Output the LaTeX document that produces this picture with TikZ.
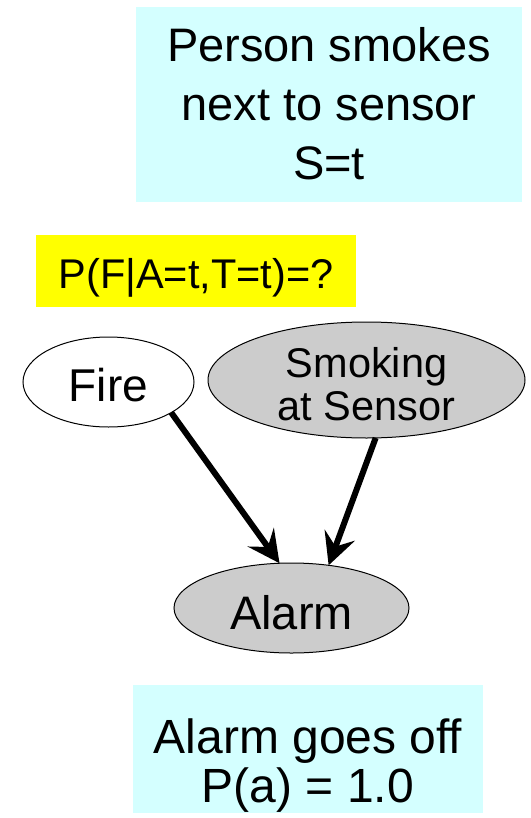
\documentclass[tikz,border=0pt]{standalone}
\usepackage{fontspec}
\setmainfont{Liberation Sans}
\usetikzlibrary{arrows.meta,shapes.geometric}
\definecolor{notecyan}{RGB}{212,255,255}
\definecolor{nodegray}{RGB}{204,204,204}
\definecolor{queryyellow}{RGB}{255,255,0}
% centred lines whose reference point is the first baseline
\newcommand\stackedlines[1]{\begin{tabular}[t]{@{}c@{}}#1\end{tabular}}

\begin{document}
\begin{tikzpicture}[x=1pt,y=-1pt,
  note/.style={rectangle, fill=notecyan, inner sep=0pt, outer sep=0pt},
  query/.style={rectangle, fill=queryyellow, inner sep=0pt, outer sep=0pt},
  var/.style={ellipse, draw=black, line width=1pt, inner sep=0pt, outer sep=0pt},
  cause/.style={line width=6pt, -{Stealth[length=32pt,width=32pt,inset=12pt]}}]
\useasboundingbox (0,0) rectangle (530,818);

% evidence note at the top
\node[note, minimum width=386pt, minimum height=195pt, text height=10pt, text depth=95pt,
      font=\fontsize{47}{59}\selectfont] (smokenote) at (329,104.5)
  {\stackedlines{Person smokes\\next to sensor\\S=t}};

% query
\node[query, minimum width=320pt, minimum height=72pt, text height=40pt, text depth=6pt,
      font=\fontsize{41.5}{48}\selectfont] (querybox) at (196,271) {P(F|A=t,T=t)=?};

% network variables
\node[var, fill=white, minimum width=171pt, minimum height=90pt, text height=45pt, text depth=5.6pt,
      font=\fontsize{46}{52}\selectfont] (fire) at (108.5,382) {Fire};
\node[var, fill=nodegray, minimum width=317pt, minimum height=116pt, text height=36pt, text depth=42pt,
      font=\fontsize{41.5}{43}\selectfont] (smoking) at (366.5,380) {\stackedlines{Smoking\\at Sensor}};
\node[var, fill=nodegray, minimum width=235pt, minimum height=90pt, text height=46pt, text depth=4pt,
      font=\fontsize{47}{54}\selectfont] (alarm) at (291.5,608) {Alarm};

% causal links
\draw[cause] (fire.-26.7) -- (alarm.105);
\draw[cause] (smoking.-81.7) -- (alarm.49.5);

% evidence note at the bottom
\node[note, minimum width=350pt, minimum height=128pt, text height=40pt, text depth=32pt,
      font=\fontsize{48}{49}\selectfont] (alarmnote) at (308,749)
  {\stackedlines{Alarm goes off\\P(a) = 1.0}};
\end{tikzpicture}
\end{document}
